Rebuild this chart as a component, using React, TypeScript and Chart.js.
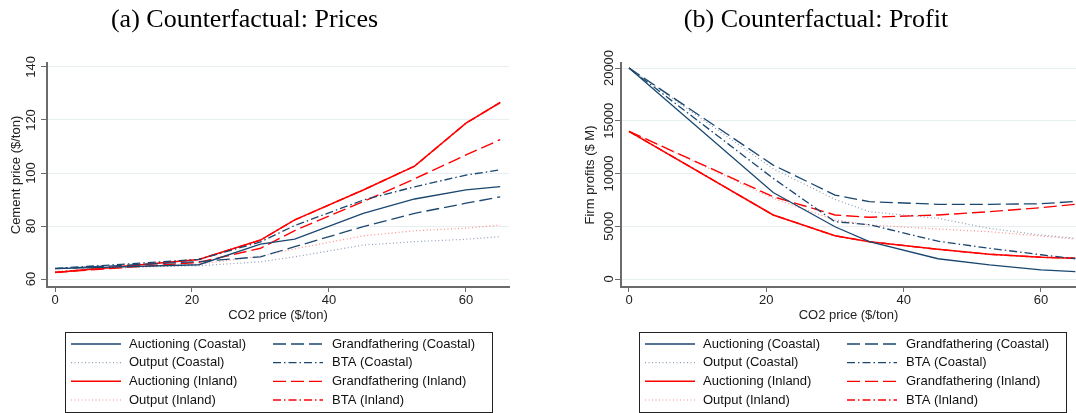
import React, { useEffect, useRef } from "react";
import { Chart, registerables } from "chart.js";

Chart.register(...registerables);

// ---------------- DATA ----------------
const co2Price = [0, 21, 30, 35, 45, 52.5, 60, 65];
const xTickValues = [0, 20, 40, 60];
const priceTickValues = [60, 80, 100, 120, 140];
const profitTickValues = [0, 5000, 10000, 15000, 20000];

const seriesNames = [
  "Auctioning (Coastal)",
  "Grandfathering (Coastal)",
  "Output (Coastal)",
  "BTA (Coastal)",
  "Auctioning (Inland)",
  "Grandfathering (Inland)",
  "Output (Inland)",
  "BTA (Inland)",
];

// (a) Cement price ($/ton)
const priceAuctioningCoastal = [63.9, 65.4, 73.2, 75.1, 84.8, 90.2, 93.6, 94.9];
const priceGrandfatheringCoastal = [63.9, 66.6, 68.4, 72.2, 79.8, 84.8, 88.6, 91.0];
const priceOutputCoastal = [64.0, 65.0, 66.5, 68.4, 72.8, 74.1, 75.0, 76.0];
const priceBTACoastal = [64.0, 67.4, 74.0, 80.2, 89.8, 94.8, 99.2, 101.2];
const priceAuctioningInland = [62.5, 67.4, 74.7, 82.3, 93.6, 102.6, 118.8, 126.6];
const priceGrandfatheringInland = [62.5, 66.3, 71.6, 78.3, 89.2, 97.8, 106.8, 112.6];
const priceOutputInland = [62.9, 65.6, 68.6, 71.4, 76.3, 78.2, 79.2, 80.4];
const priceBTAInland = [62.5, 67.4, 74.7, 82.3, 93.6, 102.6, 118.8, 126.6];

// (b) Firm profits ($ M)
const profitAuctioningCoastal = [20000, 8200, 4950, 3550, 1920, 1330, 860, 700];
const profitGrandfatheringCoastal = [20000, 10800, 7960, 7330, 7080, 7080, 7130, 7350];
const profitOutputCoastal = [20000, 10450, 7550, 6380, 5750, 4800, 4170, 3860];
const profitBTACoastal = [20000, 9540, 5430, 5150, 3580, 2910, 2300, 1920];
const profitAuctioningInland = [14000, 6070, 4100, 3540, 2810, 2340, 2060, 1960];
const profitGrandfatheringInland = [14000, 7800, 6070, 5850, 6070, 6380, 6760, 7080];
const profitOutputInland = [14000, 7650, 5590, 5120, 4740, 4480, 4080, 3790];
const profitBTAInland = [14000, 6070, 4100, 3540, 2810, 2340, 2060, 1960];

// ---------------- STYLES ----------------
const NAVY = "#1a476f";
const RED = "#ff0000";
const seriesStyles = [
  { color: NAVY, dash: [] as number[], width: 1.3 },
  { color: NAVY, dash: [13, 5], width: 1.3 },
  { color: "#8c9eb6", dash: [1, 2.5], width: 1.2 },
  { color: NAVY, dash: [8, 3, 1.5, 3], width: 1.3 },
  { color: RED, dash: [] as number[], width: 1.5 },
  { color: RED, dash: [13, 5], width: 1.4 },
  { color: "#ff8a8a", dash: [1, 2.5], width: 1.2 },
  { color: RED, dash: [8, 3, 1.5, 3], width: 1.4 },
];

const AXIS_COLOR = "#6b6b6b";
const GRID_COLOR = "#e6eef0";

const decorPlugin = {
  id: "decor",
  afterDraw(chart: any, _args: any, o: any) {
    const ctx = chart.ctx as CanvasRenderingContext2D;
    ctx.save();
    ctx.font = '26px "Liberation Serif"';
    ctx.fillStyle = "#000";
    ctx.textAlign = "center";
    ctx.textBaseline = "alphabetic";
    ctx.fillText(o.title, o.titleX, 27);

    const bx = o.legendX;
    const by = 332;
    const bw = 427;
    const bh = 80;
    ctx.strokeStyle = "#222";
    ctx.lineWidth = 1;
    ctx.setLineDash([]);
    ctx.strokeRect(bx + 0.5, by + 0.5, bw, bh);

    ctx.font = '13px "Liberation Sans"';
    ctx.textAlign = "left";
    ctx.textBaseline = "middle";
    chart.data.datasets.forEach((ds: any, i: number) => {
      const col = i % 2;
      const row = Math.floor(i / 2);
      const y = 344 + row * 18.67;
      const lx = bx + 6 + col * 202;
      ctx.beginPath();
      ctx.setLineDash(ds.borderDash || []);
      ctx.strokeStyle = ds.borderColor;
      ctx.lineWidth = ds.borderWidth;
      ctx.moveTo(lx, y);
      ctx.lineTo(lx + 50, y);
      ctx.stroke();
      ctx.setLineDash([]);
      ctx.fillStyle = "#111";
      ctx.fillText(ds.label, bx + 64 + col * 203, y);
    });
    ctx.restore();
  },
};

type PanelOpts = {
  title: string;
  titleX: number;
  yTitle: string;
  yTitlePad: number;
  yMin: number;
  yMax: number;
  yTicks: number[];
  xMin: number;
  xMax: number;
  padRight: number;
  yAxisWidth: number;
  yTickPad: number;
  legendX: number;
  series: number[][];
};

function makeConfig(p: PanelOpts): any {
  return {
    type: "line",
    data: {
      datasets: p.series.map((vals, i) => ({
        label: seriesNames[i],
        data: co2Price.map((x, j) => ({ x, y: vals[j] })),
        borderColor: seriesStyles[i].color,
        borderDash: seriesStyles[i].dash,
        borderWidth: seriesStyles[i].width,
        pointRadius: 0,
        tension: 0,
        fill: false,
      })),
    },
    options: {
      responsive: false,
      animation: false,
      events: [],
      layout: { padding: { top: 63, right: p.padRight, bottom: 85, left: 0 } },
      plugins: {
        legend: { display: false },
        tooltip: { enabled: false },
        decor: { title: p.title, titleX: p.titleX, legendX: p.legendX },
      },
      scales: {
        x: {
          type: "linear",
          min: p.xMin,
          max: p.xMax,
          afterBuildTicks: (s: any) => {
            s.ticks = xTickValues.map((v) => ({ value: v }));
          },
          afterFit: (s: any) => {
            s.height = 41;
          },
          grid: {
            display: true,
            drawOnChartArea: false,
            drawTicks: true,
            tickLength: 5,
            tickColor: AXIS_COLOR,
            tickWidth: 1,
          },
          border: { display: true, color: AXIS_COLOR, width: 2 },
          ticks: {
            autoSkip: false,
            padding: 1,
            color: "#222",
            font: { size: 13, family: "Liberation Sans" },
            maxRotation: 0,
            callback: (v: any) => String(v),
          },
          title: {
            display: true,
            text: "CO2 price ($/ton)",
            color: "#222",
            font: { size: 13, family: "Liberation Sans" },
            padding: { top: 0, bottom: 5 },
          },
        },
        y: {
          type: "linear",
          min: p.yMin,
          max: p.yMax,
          afterBuildTicks: (s: any) => {
            s.ticks = p.yTicks.map((v) => ({ value: v }));
          },
          afterFit: (s: any) => {
            s.width = p.yAxisWidth;
          },
          grid: {
            display: true,
            drawOnChartArea: true,
            color: GRID_COLOR,
            lineWidth: 1,
            drawTicks: true,
            tickLength: 6,
            tickColor: AXIS_COLOR,
            tickWidth: 1,
          },
          border: { display: true, color: AXIS_COLOR, width: 2 },
          ticks: {
            autoSkip: false,
            minRotation: 90,
            maxRotation: 90,
            crossAlign: "center",
            padding: p.yTickPad,
            color: "#222",
            font: { size: 13, family: "Liberation Sans" },
            callback: (v: any) => String(v),
          },
          title: {
            display: true,
            text: p.yTitle,
            color: "#222",
            font: { size: 13, family: "Liberation Sans" },
            padding: { top: p.yTitlePad, bottom: 0 },
          },
        },
      },
    },
    plugins: [decorPlugin],
  };
}

function Panel({ opts, left }: { opts: PanelOpts; left: number }) {
  const ref = useRef<HTMLCanvasElement | null>(null);
  useEffect(() => {
    if (!ref.current) return;
    const chart = new Chart(ref.current, makeConfig(opts));
    return () => chart.destroy();
  }, []);
  return (
    <canvas
      ref={ref}
      width={538}
      height={413}
      style={{ position: "absolute", left, top: 0, width: 538, height: 413, display: "block" }}
    />
  );
}

const pricesPanel: PanelOpts = {
  title: "(a) Counterfactual: Prices",
  titleX: 244.5,
  yTitle: "Cement price ($/ton)",
  yTitlePad: 9,
  yMin: 57,
  yMax: 141.5,
  yTicks: priceTickValues,
  xMin: -1.168,
  xMax: 66.28,
  padRight: 29,
  yAxisWidth: 47,
  yTickPad: -1,
  legendX: 65,
  series: [
    priceAuctioningCoastal,
    priceGrandfatheringCoastal,
    priceOutputCoastal,
    priceBTACoastal,
    priceAuctioningInland,
    priceGrandfatheringInland,
    priceOutputInland,
    priceBTAInland,
  ],
};

const profitPanel: PanelOpts = {
  title: "(b) Counterfactual: Profit",
  titleX: 278,
  yTitle: "Firm profits ($ M)",
  yTitlePad: 45,
  yMin: -758,
  yMax: 20474,
  yTicks: profitTickValues,
  xMin: -1.164,
  xMax: 65.1,
  padRight: 0,
  yAxisWidth: 83,
  yTickPad: -12,
  legendX: 101,
  series: [
    profitAuctioningCoastal,
    profitGrandfatheringCoastal,
    profitOutputCoastal,
    profitBTACoastal,
    profitAuctioningInland,
    profitGrandfatheringInland,
    profitOutputInland,
    profitBTAInland,
  ],
};

export default function App() {
  return (
    <div style={{ position: "absolute", left: 0, top: 0, width: 1076, height: 413, background: "#fff" }}>
      <Panel opts={pricesPanel} left={0} />
      <Panel opts={profitPanel} left={538} />
    </div>
  );
}
